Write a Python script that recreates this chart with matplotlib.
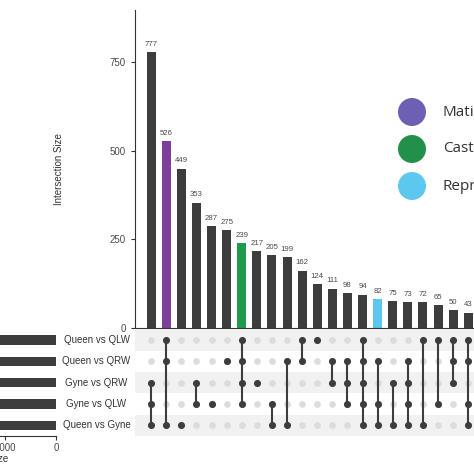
import matplotlib
matplotlib.use("Agg")
import matplotlib.pyplot as plt
from matplotlib.patches import Circle
from matplotlib.transforms import blended_transform_factory

plt.rcParams['font.family'] = ['Liberation Sans', 'DejaVu Sans']

# ---------------- data ----------------
sets = ["Queen vs QLW", "Queen vs QRW", "Gyne vs QRW", "Gyne vs QLW", "Queen vs Gyne"]
set_sizes = [1375, 1952, 2087, 2316, 2595]
intersection_sizes = [777, 526, 449, 353, 287, 275, 239, 217, 205, 199, 162, 124,
                      111, 98, 94, 82, 75, 73, 72, 65, 50, 43]
# membership as indices into `sets`
memberships = [
    [2, 3, 4], [0, 1, 4], [4], [2, 3], [3], [1], [0, 1, 2, 3], [2], [3, 4], [1, 4],
    [0, 1], [0], [1, 2], [1, 2, 3], [0, 1, 2, 3, 4], [1, 3, 4], [2, 4], [1, 2, 3, 4],
    [0, 4], [0, 3], [0, 1, 2], [0, 1, 3, 4],
]
highlight = {1: "#7d3f98", 6: "#1f9a4c", 15: "#5cc6ec"}
legend_labels = ["Mating", "Caste", "Reproductive"]
legend_colors = ["#6d60b3", "#21904a", "#5cc7ef"]
set_ticks = [1000, 0]
y_ticks = [0, 250, 500, 750]

# ---------------- layout helpers ----------------
W = H = 474.0
def rect(x0, y0, x1, y1):
    return [x0 / W, 1 - y1 / H, (x1 - x0) / W, (y1 - y0) / H]

DARK = "#3d3d3d"
LIGHT = "#dcdcdc"
TXT = "#4a4a4a"

fig = plt.figure(figsize=(4.74, 4.74), dpi=100)

xl = (-1.07, 22.5)
colw = 15.1
xright = 135 + (xl[1] - xl[0]) * colw

# ---- intersection bar chart ----
axb = fig.add_axes(rect(135, 10, xright, 328))
n = len(intersection_sizes)
colors = [highlight.get(i, DARK) for i in range(n)]
axb.bar(range(n), intersection_sizes, width=0.6, color=colors)
for i, v in enumerate(intersection_sizes):
    axb.text(i, v + 12, str(v), ha="center", va="bottom", fontsize=5.6, color=TXT)
axb.set_xlim(*xl)
axb.set_ylim(0, 896)
axb.set_yticks(y_ticks)
axb.set_xticks([])
axb.tick_params(axis="y", labelsize=7, colors=TXT, length=3, width=0.8)
axb.tick_params(axis="y", color="#333333")
for s in ["top", "right"]:
    axb.spines[s].set_visible(False)
for s in ["left", "bottom"]:
    axb.spines[s].set_color("#333333")
    axb.spines[s].set_linewidth(0.8)
axb.set_ylabel("Intersection Size", fontsize=7, color="#333333", labelpad=33)
axb.patch.set_alpha(0)

# ---- matrix ----
axm = fig.add_axes(rect(135, 329.4, xright, 436))
axm.set_xlim(*xl)
axm.set_ylim(len(sets) - 0.5, -0.5)
for r in range(len(sets)):
    if r % 2 == 0:
        axm.axhspan(r - 0.5, r + 0.5, color="#f1f1f1", lw=0, zorder=0)
for i, mem in enumerate(memberships):
    for r in range(len(sets)):
        axm.scatter(i, r, s=23, color=LIGHT, zorder=1, lw=0)
    if len(mem) > 1:
        axm.plot([i, i], [min(mem), max(mem)], color=DARK, lw=1.5, zorder=2,
                 solid_capstyle="butt")
    axm.scatter([i] * len(mem), mem, s=26, color=DARK, zorder=3, lw=0)
axm.axis("off")

tr = blended_transform_factory(fig.transFigure, axm.transData)
for r, name in enumerate(sets):
    axm.text(96.5 / W, r, name, transform=tr, ha="center", va="center",
             fontsize=7, color="#333333")

# ---- set size bars ----
axs = fig.add_axes(rect(-80, 329.4, 56, 436))
axs.barh(range(len(sets)), set_sizes, height=0.44, color=DARK)
axs.set_ylim(len(sets) - 0.5, -0.5)
axs.set_xlim(2667, 0)
axs.set_xticks(set_ticks)
axs.set_yticks([])
axs.tick_params(axis="x", labelsize=7, colors=TXT, length=3, width=0.8, pad=2)
axs.tick_params(axis="x", color="#333333")
for s in ["top", "right", "left"]:
    axs.spines[s].set_visible(False)
axs.spines["bottom"].set_color("#333333")
axs.spines["bottom"].set_linewidth(0.8)
axs.set_xlabel("Set Size", fontsize=7, color="#333333", labelpad=1)
axs.xaxis.label.set_x(0.515)
axs.patch.set_alpha(0)

# ---- legend ----
for k, (lab, col) in enumerate(zip(legend_labels, legend_colors)):
    yc = 112 + 37 * k
    fig.add_artist(Circle((412 / W, 1 - yc / H), radius=14 / W,
                          transform=fig.transFigure, color=col, lw=0))
    fig.text(443 / W, 1 - yc / H, lab, ha="left", va="center", fontsize=11,
             color="#333333", family=["Open Sans", "DejaVu Sans"])

fig.savefig("out.png", dpi=100)
